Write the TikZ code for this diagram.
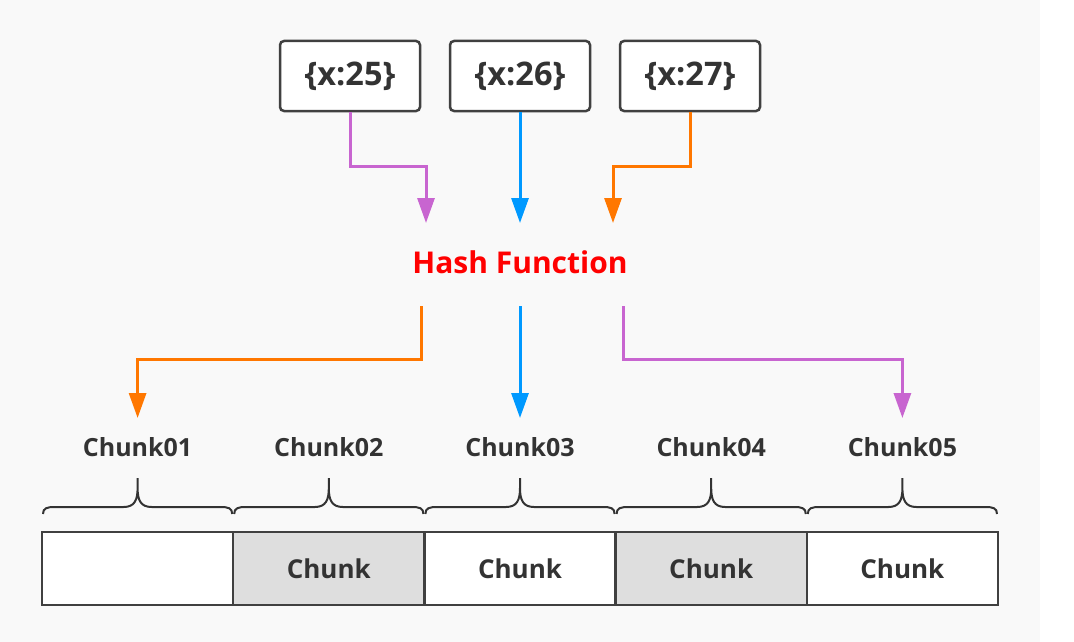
\documentclass[tikz,border=0pt]{standalone}
\usepackage{fontspec}
\setmainfont{Open Sans}
\usetikzlibrary{arrows.meta}
\definecolor{bg}{HTML}{F9F9F9}
\definecolor{txt}{HTML}{333333}
\definecolor{edge}{HTML}{404040}
\definecolor{cgray}{HTML}{DEDEDE}
\definecolor{cpurple}{HTML}{C865D0}
\definecolor{cblue}{HTML}{0099FF}
\definecolor{corange}{HTML}{FF7700}
\definecolor{hashred}{HTML}{FF0000}
\begin{document}
\begin{tikzpicture}[x=1pt,y=-1pt,
  keybox/.style={draw=edge, line width=2.5pt, rounded corners=4pt, fill=white,
    minimum width=140pt, minimum height=70pt, inner sep=0pt, text=txt,
    font=\fontsize{32.5}{36}\selectfont\bfseries},
  hashtext/.style={text=hashred, inner sep=0pt, font=\fontsize{30}{34}\selectfont\bfseries},
  chunklabel/.style={text=txt, inner sep=0pt, font=\fontsize{25}{30}\selectfont\bfseries},
  cell/.style={draw=edge, line width=2.5pt, minimum width=191.2pt, minimum height=73pt,
    inner sep=0pt, text=txt, font=\fontsize{26}{30}\selectfont\bfseries},
  flow/.style={line width=3pt, -{Triangle[length=25pt,width=17pt]}},
  curly/.style={draw=txt, line width=2pt}
]
\useasboundingbox (0,0) rectangle (1074,642);
\fill[bg] (0,0) rectangle (1040,642);

% key boxes
\node[keybox] (k1) at (350,76) {\{x:25\}};
\node[keybox] (k2) at (520,76) {\{x:26\}};
\node[keybox] (k3) at (690,76) {\{x:27\}};

% hash function
\node[hashtext] (hash) at (520,262) {Hash Function};
\coordinate (hA) at (426,223);
\coordinate (hB) at (520,223);
\coordinate (hC) at (613,223);
\coordinate (oA) at (421,306);
\coordinate (oB) at (520,306);
\coordinate (oC) at (623,306);

% chunk labels
\node[chunklabel] (cl1) at (137.6,447) {Chunk01};
\node[chunklabel] (cl2) at (328.8,447) {Chunk02};
\node[chunklabel] (cl3) at (520,447) {Chunk03};
\node[chunklabel] (cl4) at (711.2,447) {Chunk04};
\node[chunklabel] (cl5) at (902.4,447) {Chunk05};
\coordinate (tA) at (137.6,418);
\coordinate (tC) at (520,418);
\coordinate (tE) at (902.4,418);

% cells
\node[cell, fill=white] (c1) at (137.6,568.5) {};
\node[cell, fill=cgray] (c2) at (328.8,568.5) {Chunk};
\node[cell, fill=white] (c3) at (520,568.5) {Chunk};
\node[cell, fill=cgray] (c4) at (711.2,568.5) {Chunk};
\node[cell, fill=white] (c5) at (902.4,568.5) {Chunk};

% braces
\foreach \a/\b in {42/233.2, 233.2/424.4, 424.4/615.6, 615.6/806.8, 806.8/998}{
  \pgfmathsetmacro\m{(\a+\b)/2}
  \draw[curly] (\a+1,514) .. controls (\a+1,508) and (\a+5,507) .. (\a+13,507)
    -- (\m-14,507) .. controls (\m-3,507) and (\m,500) .. (\m,488) -- (\m,478)
    -- (\m,488) .. controls (\m,500) and (\m+3,507) .. (\m+14,507)
    -- (\b-13,507) .. controls (\b-5,507) and (\b-1,508) .. (\b-1,514);
}

% connectors into hash function
\draw[flow, cpurple] (k1.south) -- ++(0,54) -| (hA);
\draw[flow, cblue] (k2.south) -- (hB);
\draw[flow, corange] (k3.south) -- ++(0,54) -| (hC);

% connectors out of hash function
\draw[flow, corange] (oA) -- ++(0,53) -| (tA);
\draw[flow, cblue] (oB) -- (tC);
\draw[flow, cpurple] (oC) -- ++(0,53) -| (tE);
\end{tikzpicture}
\end{document}
